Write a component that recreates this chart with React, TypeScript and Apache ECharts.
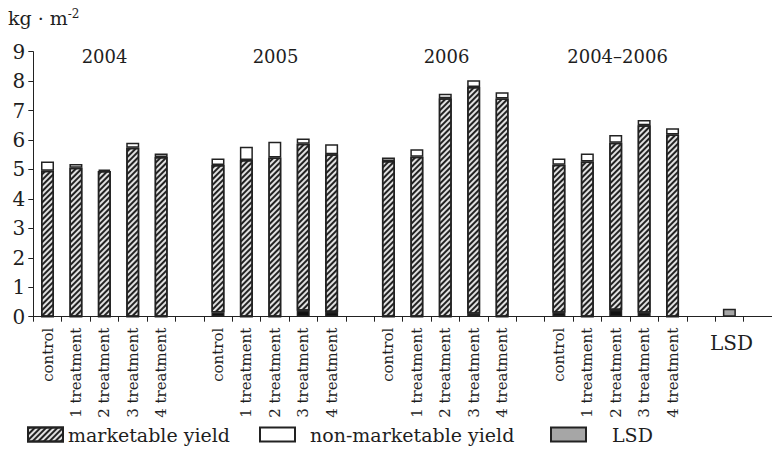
import React, { useEffect, useRef } from "react";
import * as echarts from "echarts";

const categories = [
  "control", "1 treatment", "2 treatment", "3 treatment", "4 treatment", "",
  "control", "1 treatment", "2 treatment", "3 treatment", "4 treatment", "",
  "control", "1 treatment", "2 treatment", "3 treatment", "4 treatment", "",
  "control", "1 treatment", "2 treatment", "3 treatment", "4 treatment", "",
  "LSD", "",
];
const groupLabels = ["2004", "2005", "2006", "2004–2006"];
const groupCenters = [2.5, 8.5, 14.5, 20.5];

// dark bottom part of marketable yield
const darkPart = [
  0, 0, 0, 0, 0, null,
  0.14, 0, 0, 0.2, 0.16, null,
  0, 0, 0, 0.1, 0, null,
  0.13, 0, 0.23, 0.13, 0, null,
  null, null,
];
// marketable yield (hatched) above the dark part
const marketable = [
  4.96, 5.06, 4.95, 5.74, 5.42, null,
  5.01, 5.32, 5.41, 5.67, 5.36, null,
  5.29, 5.43, 7.42, 7.7, 7.41, null,
  5.03, 5.27, 5.68, 6.37, 6.19, null,
  null, null,
];
const nonMarketable = [
  0.31, 0.13, 0.05, 0.17, 0.12, null,
  0.22, 0.45, 0.53, 0.18, 0.34, null,
  0.12, 0.26, 0.15, 0.23, 0.21, null,
  0.21, 0.27, 0.26, 0.18, 0.21, null,
  null, null,
];
const lsd = [
  null, null, null, null, null, null,
  null, null, null, null, null, null,
  null, null, null, null, null, null,
  null, null, null, null, null, null,
  0.27, null,
];
const yTicks = [0, 9, 1];

const FONT = "DejaVu Serif";
const TXT = "#1e1e1e";

export default function App() {
  const ref = useRef<HTMLDivElement>(null);
  useEffect(() => {
    if (!ref.current) return;
    const chart = echarts.init(ref.current, null, { renderer: "svg" });
    const gridLeft = 33.3;
    const catW = 28.5;
    const gridTop = 51.7;
    const gridBottom = 133.3;
    const gridWidth = catW * categories.length;
    const border = { borderColor: "#222", borderWidth: 1.5 };
    const graphic: any[] = groupLabels.map((t, i) => ({
      type: "text",
      x: gridLeft + groupCenters[i] * catW,
      y: 56,
      style: {
        text: t,
        fontFamily: FONT,
        fontSize: 18,
        fill: TXT,
        textAlign: "center",
        textVerticalAlign: "middle",
      },
    }));
    graphic.push({
      type: "text",
      x: gridLeft + 24.5 * catW,
      y: 343,
      style: {
        text: "LSD",
        fontFamily: FONT,
        fontSize: 20,
        fill: TXT,
        textAlign: "center",
        textVerticalAlign: "middle",
      },
    });
    graphic.push({
      type: "text",
      x: 8,
      y: 8,
      style: {
        text: "{a|kg · m}{b|-2}",
        rich: {
          a: { fontFamily: FONT, fontSize: 19, fill: TXT, color: TXT },
          b: { fontFamily: FONT, fontSize: 12, fill: TXT, color: TXT, verticalAlign: "top", padding: [0, 0, 8, 0] },
        },
      },
    });
    const legendBase = {
      top: 420,
      itemWidth: 35,
      itemHeight: 14,
      icon: "rect",
      selectedMode: false,
      textStyle: { fontFamily: FONT, fontSize: 19, color: TXT },
    };
    chart.setOption({
      animation: false,
      backgroundColor: "#fff",
      grid: { left: gridLeft, top: gridTop, bottom: gridBottom, width: gridWidth },
      graphic,
      legend: [
        { ...legendBase, left: 22, data: ["marketable yield"] },
        {
          ...legendBase,
          left: 254,
          data: ["non-marketable yield"],
          textStyle: { ...legendBase.textStyle, padding: [0, 0, 0, 10] },
        },
        {
          ...legendBase,
          left: 545,
          data: ["LSD"],
          textStyle: { ...legendBase.textStyle, padding: [0, 0, 0, 21] },
        },
      ],
      xAxis: {
        type: "category",
        data: categories,
        boundaryGap: true,
        axisLine: { lineStyle: { color: "#222", width: 1 } },
        axisTick: { show: true, length: 5, interval: 0, lineStyle: { color: "#222" } },
        axisLabel: {
          interval: 0,
          rotate: 90,
          margin: 11,
          fontFamily: FONT,
          fontSize: 15,
          color: TXT,
          formatter: (v: string) => (v === "LSD" ? "" : v),
        },
      },
      yAxis: {
        type: "value",
        min: yTicks[0],
        max: yTicks[1],
        interval: yTicks[2],
        splitLine: { show: false },
        axisLine: { show: true, lineStyle: { color: "#222", width: 1 } },
        axisTick: { show: true, length: 5, lineStyle: { color: "#222" } },
        axisLabel: { fontFamily: FONT, fontSize: 20, color: TXT, margin: 8 },
      },
      series: [
        {
          name: "dark",
          type: "bar",
          stack: "a",
          barWidth: 13,
          data: darkPart,
          itemStyle: { color: "#111", ...border },
        },
        {
          name: "marketable yield",
          type: "bar",
          stack: "a",
          barWidth: 13,
          data: marketable,
          itemStyle: {
            color: "#e0e0e0",
            ...border,
            decal: {
              symbol: "rect",
              symbolSize: 1,
              dashArrayX: [1, 0],
              dashArrayY: [2, 2],
              rotation: -Math.PI / 4,
              color: "#222",
              backgroundColor: "#e0e0e0",
            },
          },
        },
        {
          name: "non-marketable yield",
          type: "bar",
          stack: "a",
          barWidth: 13,
          data: nonMarketable,
          itemStyle: { color: "#fff", ...border },
        },
        {
          name: "LSD",
          type: "bar",
          stack: "a",
          barWidth: 13,
          data: lsd,
          itemStyle: { color: "#a6a6a6", ...border },
        },
      ],
    });
    return () => chart.dispose();
  }, []);
  return (
    <div
      ref={ref}
      style={{ position: "fixed", left: 0, top: 0, width: 772, height: 450 }}
    />
  );
}
